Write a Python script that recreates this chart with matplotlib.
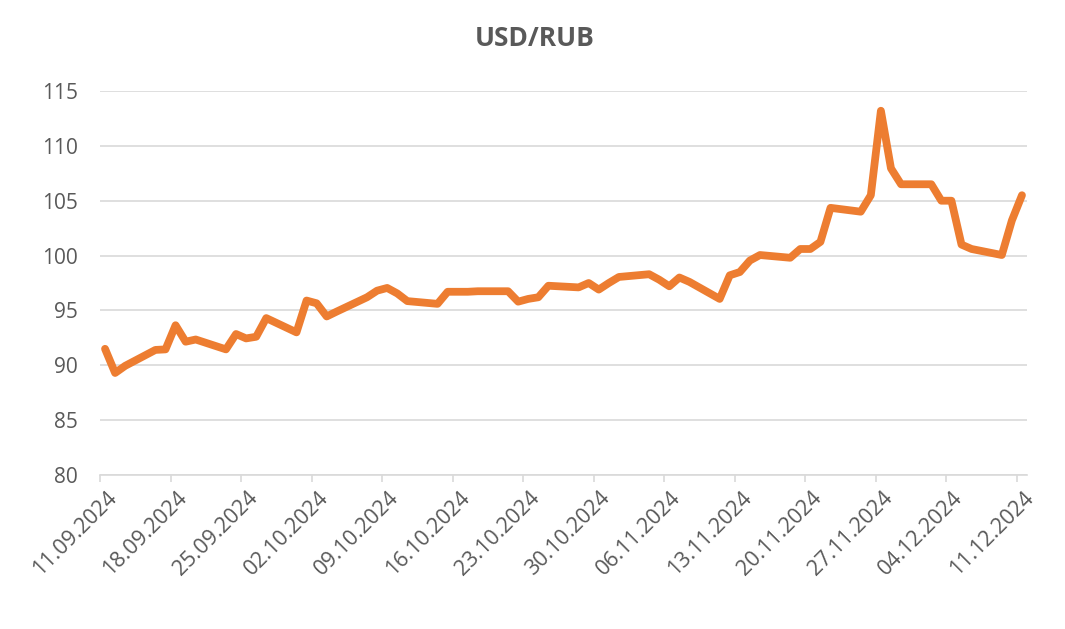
import matplotlib
matplotlib.use("Agg")
import matplotlib.pyplot as plt
import matplotlib.dates as mdates
import matplotlib.transforms as mtransforms
import pandas as pd
import numpy as np

# trading days and USD/RUB close
dates = [
    "11.09.2024", "12.09.2024", "13.09.2024", "16.09.2024", "17.09.2024",
    "18.09.2024", "19.09.2024", "20.09.2024", "23.09.2024", "24.09.2024",
    "25.09.2024", "26.09.2024", "27.09.2024", "30.09.2024", "01.10.2024",
    "02.10.2024", "03.10.2024", "04.10.2024", "07.10.2024", "08.10.2024",
    "09.10.2024", "10.10.2024", "11.10.2024", "14.10.2024", "15.10.2024",
    "16.10.2024", "17.10.2024", "18.10.2024", "21.10.2024", "22.10.2024",
    "23.10.2024", "24.10.2024", "25.10.2024", "28.10.2024", "29.10.2024",
    "30.10.2024", "31.10.2024", "01.11.2024", "04.11.2024", "05.11.2024",
    "06.11.2024", "07.11.2024", "08.11.2024", "11.11.2024", "12.11.2024",
    "13.11.2024", "14.11.2024", "15.11.2024", "18.11.2024", "19.11.2024",
    "20.11.2024", "21.11.2024", "22.11.2024", "25.11.2024", "26.11.2024",
    "27.11.2024", "28.11.2024", "29.11.2024", "02.12.2024", "03.12.2024",
    "04.12.2024", "05.12.2024", "06.12.2024", "09.12.2024", "10.12.2024",
    "11.12.2024",
]
rates = [
    91.5, 89.3, 89.95, 91.4, 91.45,
    93.65, 92.15, 92.35, 91.45, 92.85,
    92.45, 92.6, 94.3, 93.0, 95.9,
    95.65, 94.45, 94.9, 96.2, 96.8,
    97.05, 96.55, 95.85, 95.6, 96.7,
    96.7, 96.7, 96.75, 96.75, 95.8,
    96.05, 96.2, 97.25, 97.1, 97.5,
    96.9, 97.5, 98.05, 98.3, 97.8,
    97.2, 98.0, 97.6, 96.05, 98.2,
    98.5, 99.55, 100.05, 99.8, 100.6,
    100.6, 101.25, 104.35, 104.0, 105.5,
    113.2, 107.95, 106.5, 106.5, 105.0,
    105.0, 101.0, 100.6, 100.05, 103.2,
    105.5,
]
y_ticks = [80, 85, 90, 95, 100, 105, 110, 115]

gray = "#595959"
grid = "#d9d9d9"
orange = "#ED7D31"

plt.rcParams['font.family'] = ['Open Sans', 'DejaVu Sans']

fig = plt.figure(figsize=(10.65, 6.29), dpi=100)
ax = fig.add_axes([100 / 1065, 1 - 475 / 629, 927 / 1065, 384 / 629])

d = pd.to_datetime(dates, format="%d.%m.%Y")
# Excel date axis: each point sits in the middle of its day
x = mdates.date2num(d) + 0.5
ax.plot(x, rates, color=orange, lw=5.6, solid_capstyle='round',
        solid_joinstyle='round', zorder=3)

start = mdates.date2num(d[0])
end = mdates.date2num(d[-1])
tick_pos = np.arange(start, end + 1, 7)
ax.set_xlim(start, end + 1)
ax.set_xticks(tick_pos)
ax.set_xticklabels([mdates.num2date(t).strftime("%d.%m.%Y") for t in tick_pos])

ax.set_ylim(80, 115)
ax.set_yticks(y_ticks)
ax.yaxis.grid(True, color=grid, lw=1.2)
ax.set_axisbelow(True)

for s in ['top', 'right', 'left']:
    ax.spines[s].set_visible(False)
ax.spines['bottom'].set_color(grid)
ax.spines['bottom'].set_linewidth(1.2)

ax.tick_params(axis='y', length=0, pad=16, labelsize=15, labelcolor=gray)
ax.tick_params(axis='x', length=5, width=1.2, color=grid, pad=4,
               labelsize=15.5, labelcolor=gray)

offset = mtransforms.ScaledTranslation(6 / 100, 0, fig.dpi_scale_trans)
for lab in ax.get_xticklabels():
    lab.set_rotation(45)
    lab.set_ha('right')
    lab.set_va('top')
    lab.set_rotation_mode('anchor')
    lab.set_transform(lab.get_transform() + offset)

fig.text(535 / 1065, 1 - 38 / 629, "USD/RUB", ha='center', va='center',
         fontsize=19, fontweight='bold', color=gray)

fig.savefig("out.png", dpi=100, facecolor='white')
